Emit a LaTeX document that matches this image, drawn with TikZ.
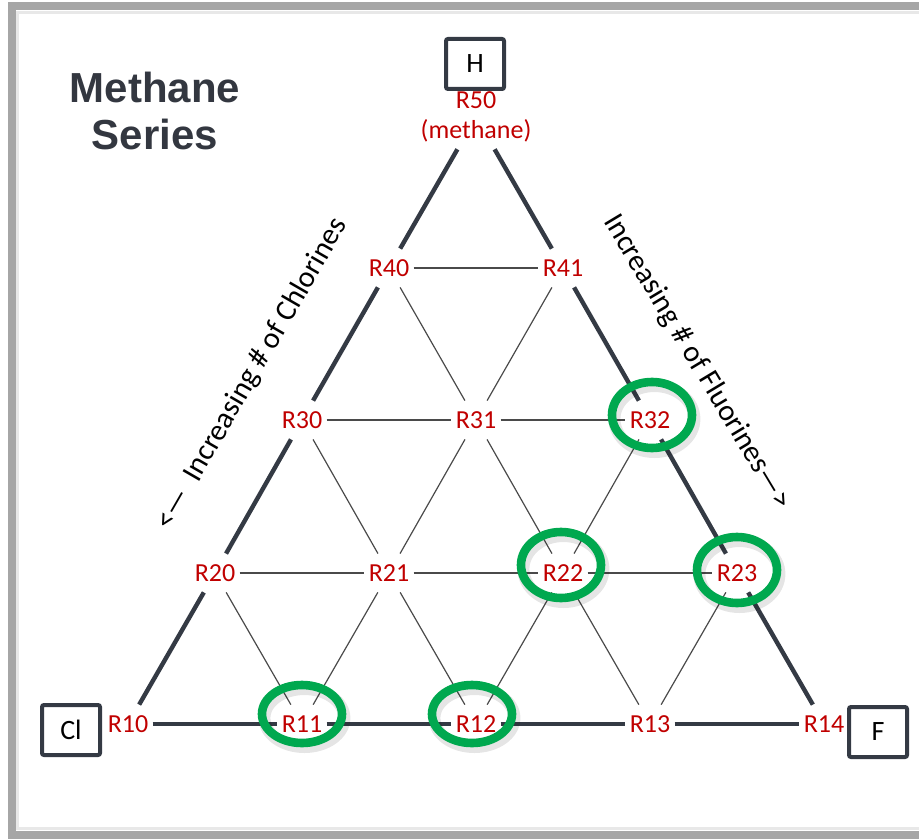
\documentclass[tikz,border=0pt]{standalone}
\usepackage{fontspec}
\setmainfont{Carlito}
\newfontfamily\titlefont{Liberation Sans}
\usepackage{tikz}
\definecolor{Frame}{HTML}{A6A6A6}
\definecolor{Fringe}{HTML}{E8E8E8}
\definecolor{Ink}{HTML}{343A44}
\definecolor{Thin}{HTML}{4A4A4A}
\definecolor{Refr}{HTML}{C00000}
\definecolor{Ring}{HTML}{00A84F}
\definecolor{Head}{HTML}{333740}

\begin{document}
\begin{tikzpicture}[x=0.5pt,y=-0.5pt,
    rnode/.style={font=\fontsize{13}{15}\selectfont,text=Refr,inner xsep=2pt,minimum height=19pt},
    elem/.style={draw=Ink,line width=2pt,rounded corners=1pt,minimum width=29pt,minimum height=25pt,font=\fontsize{14}{16}\selectfont},
    edgeout/.style={draw=Ink,line width=2.2pt},
    edgein/.style={draw=Thin,line width=0.6pt},
    slant/.style={font=\fontsize{15}{18}\selectfont}]
  \useasboundingbox (0,0) rectangle (919,839);
  \clip (0,0) rectangle (919,839);
  % frame
  \draw[Fringe,line width=1.5pt] (17.5,12.5) rectangle (960,828);
  \draw[Frame,line width=4pt] (11.5,6.5) rectangle (960,834.5);

  \node[font=\titlefont\bfseries\fontsize{21}{23.5}\selectfont,text=Head,align=center] (title) at (155,111) {Methane\\Series};

  % refrigerants
  \foreach \n/\x/\y in {10/128/724, 11/302/724, 12/476/724, 13/650/724, 14/824/724,
      20/215/573, 21/389/573, 22/563/573, 23/737/573,
      30/302/420, 31/476/420, 32/650/420,
      40/389/268, 41/563/268}
    \node[rnode] (R\n) at (\x,\y) {R\n};
  \node[rnode,align=center] (R50) at (476,117) {R50\\(methane)};

  \node[elem] (H) at (475,64) {H};
  \node[elem] (Cl) at (71,730) {Cl};
  \node[elem] (F) at (878,732) {F};

  \foreach \a/\b in {10/11, 11/12, 12/13, 13/14, 10/20, 20/30, 30/40, 40/50,
      14/23, 23/32, 32/41, 41/50}
    \draw[edgeout] (R\a) -- (R\b);
  \foreach \a/\b in {20/21, 21/22, 22/23, 30/31, 31/32, 40/41,
      11/21, 21/31, 31/41, 12/22, 22/32, 13/23,
      11/20, 12/21, 21/30, 13/22, 22/31, 31/40}
    \draw[edgein] (R\a) -- (R\b);

  \node[slant,rotate=60] (cllab) at (252,374) {<—\ \ Increasing \# of Chlorines};
  \node[slant,rotate=-59] (flab) at (697,362) {Increasing \# of Fluorines—>};

  % highlighted ones
  \foreach \x/\y/\ry in {302/714/14.5, 472/714/14.5, 561/565/16.5, 737/570/16.5, 652/415/16.5} {
    \draw[black,opacity=0.10,line width=6pt,shift={(1.2pt,-2pt)}] (\x,\y) ellipse [x radius=20pt,y radius=\ry pt];
    \draw[Ring,line width=4.3pt] (\x,\y) ellipse [x radius=20pt,y radius=\ry pt];
  }
\end{tikzpicture}
\end{document}
